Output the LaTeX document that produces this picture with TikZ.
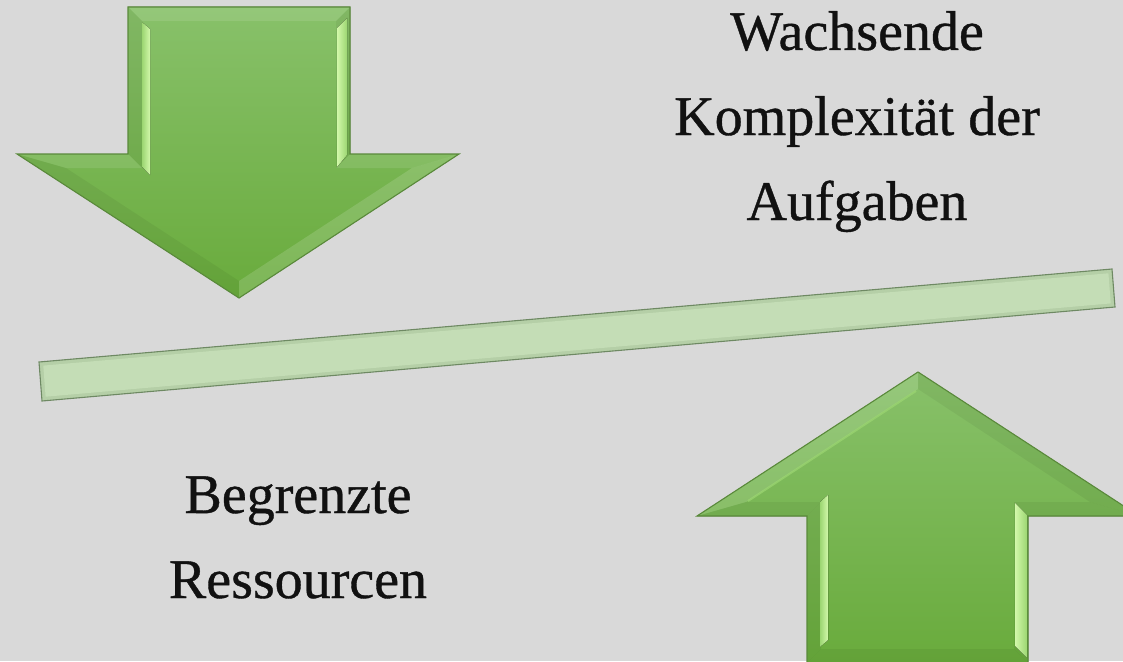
\documentclass[tikz,border=0pt]{standalone}
\usepackage{fontspec}
\setmainfont{Liberation Serif}
\newfontfamily\labelfont[FakeBold=0.7]{Liberation Serif}
\definecolor{bg}{HTML}{D9D9D9}
\definecolor{arrowtop}{HTML}{88C16A}
\definecolor{arrowbot}{HTML}{69AB3C}
\definecolor{arrowline}{HTML}{5A8A3B}
\definecolor{hilite}{HTML}{D2F8AA}
\definecolor{hilitedark}{HTML}{9CD672}
\definecolor{barouter}{HTML}{B5CFA7}
\definecolor{barinner}{HTML}{C4DDB6}
\definecolor{baredge}{HTML}{6E8963}
\definecolor{ink}{HTML}{111111}
\tikzset{
  lbl/.style={anchor=base, text=ink, font=\labelfont\fontsize{56}{85}\selectfont, inner sep=0pt},
  outline/.style={draw=arrowline, line width=1.1pt, line join=miter},
  lightfacet/.style={fill=white, fill opacity=0.10},
  darkfacet/.style={fill=black, fill opacity=0.05},
}
\begin{document}
\begin{tikzpicture}[x=1pt, y=-1pt]
  \useasboundingbox (0,0) rectangle (1123,661);
  \fill[bg] (0,0) rectangle (1123,661);

  % ---- downward arrow (upper left) ----
  \fill[top color=arrowtop, bottom color=arrowbot]
    (128,7) -- (350,7) -- (350,154) -- (459,154) -- (239,298) -- (17,154) -- (128,154) -- cycle;
  % bevel facets
  \fill[lightfacet] (128,7) -- (350,7) -- (336,21) -- (142,21) -- cycle;
  \fill[darkfacet] (128,7) -- (142,21) -- (142,168) -- (128,154) -- cycle;
  \fill[darkfacet] (350,7) -- (350,154) -- (336,168) -- (336,21) -- cycle;
  \fill[lightfacet] (17,154) -- (128,154) -- (142,168) -- (66,168) -- cycle;
  \fill[lightfacet] (350,154) -- (459,154) -- (412,168) -- (336,168) -- cycle;
  \fill[darkfacet] (17,154) -- (66,168) -- (239,281) -- (239,298) -- cycle;
  \fill[fill=white, fill opacity=0.14] (459,154) -- (239,298) -- (239,281) -- (412,168) -- cycle;
  % side highlights of the shaft
  \fill[left color=hilitedark, right color=hilite] (142,22) -- (150,29) -- (150,175) -- (142,167) -- cycle;
  \fill[left color=hilite, right color=hilitedark] (337,28) -- (347,18) -- (347,155) -- (337,167) -- cycle;
  \draw[outline]
    (128,7) -- (350,7) -- (350,154) -- (459,154) -- (239,298) -- (17,154) -- (128,154) -- cycle;

  % ---- upward arrow (lower right) ----
  \fill[top color=arrowtop, bottom color=arrowbot]
    (918,372) -- (1139,516) -- (1028,516) -- (1028,663) -- (807,663) -- (807,516) -- (697,516) -- cycle;
  \fill[fill=white, fill opacity=0.12] (697,516) -- (918,372) -- (918,389) -- (746,502) -- cycle;
  \fill[darkfacet] (918,372) -- (1139,516) -- (1090,502) -- (918,389) -- cycle;
  \fill[darkfacet] (697,516) -- (807,516) -- (821,502) -- (746,502) -- cycle;
  \fill[darkfacet] (1028,516) -- (1139,516) -- (1090,502) -- (1014,502) -- cycle;
  \fill[darkfacet] (807,516) -- (821,502) -- (821,649) -- (807,663) -- cycle;
  \fill[darkfacet] (1028,516) -- (1014,502) -- (1014,649) -- (1028,663) -- cycle;
  \fill[darkfacet] (807,663) -- (821,649) -- (1014,649) -- (1028,663) -- cycle;
  \draw[hilitedark, line width=2pt, opacity=0.7] (748,501) -- (916,391);
  \fill[left color=hilitedark, right color=hilite] (820,502) -- (828,495) -- (828,640) -- (820,647) -- cycle;
  \fill[left color=hilite, right color=hilitedark] (1015,503) -- (1027,515) -- (1027,658) -- (1015,646) -- cycle;
  \draw[outline]
    (918,372) -- (1139,516) -- (1028,516) -- (1028,663) -- (807,663) -- (807,516) -- (697,516) -- cycle;

  % ---- tilted balance bar ----
  \filldraw[fill=barouter, draw=baredge, line width=1.1pt]
    (39,362) -- (1112,269) -- (1115,307) -- (42,401) -- cycle;
  \fill[barinner] (43.3,365.6) -- (1108.4,273.3) -- (1110.7,303.4) -- (45.6,396.7) -- cycle;

  % ---- labels ----
  \node[lbl] (wachsende) at (857,50) {Wachsende};
  \node[lbl] (komplex)   at (857,135) {Komplexität der};
  \node[lbl] (aufgaben)  at (857,220) {Aufgaben};
  \node[lbl] (begrenzt)  at (298,513) {Begrenzte};
  \node[lbl] (ressourc)  at (298,598) {Ressourcen};
\end{tikzpicture}
\end{document}
